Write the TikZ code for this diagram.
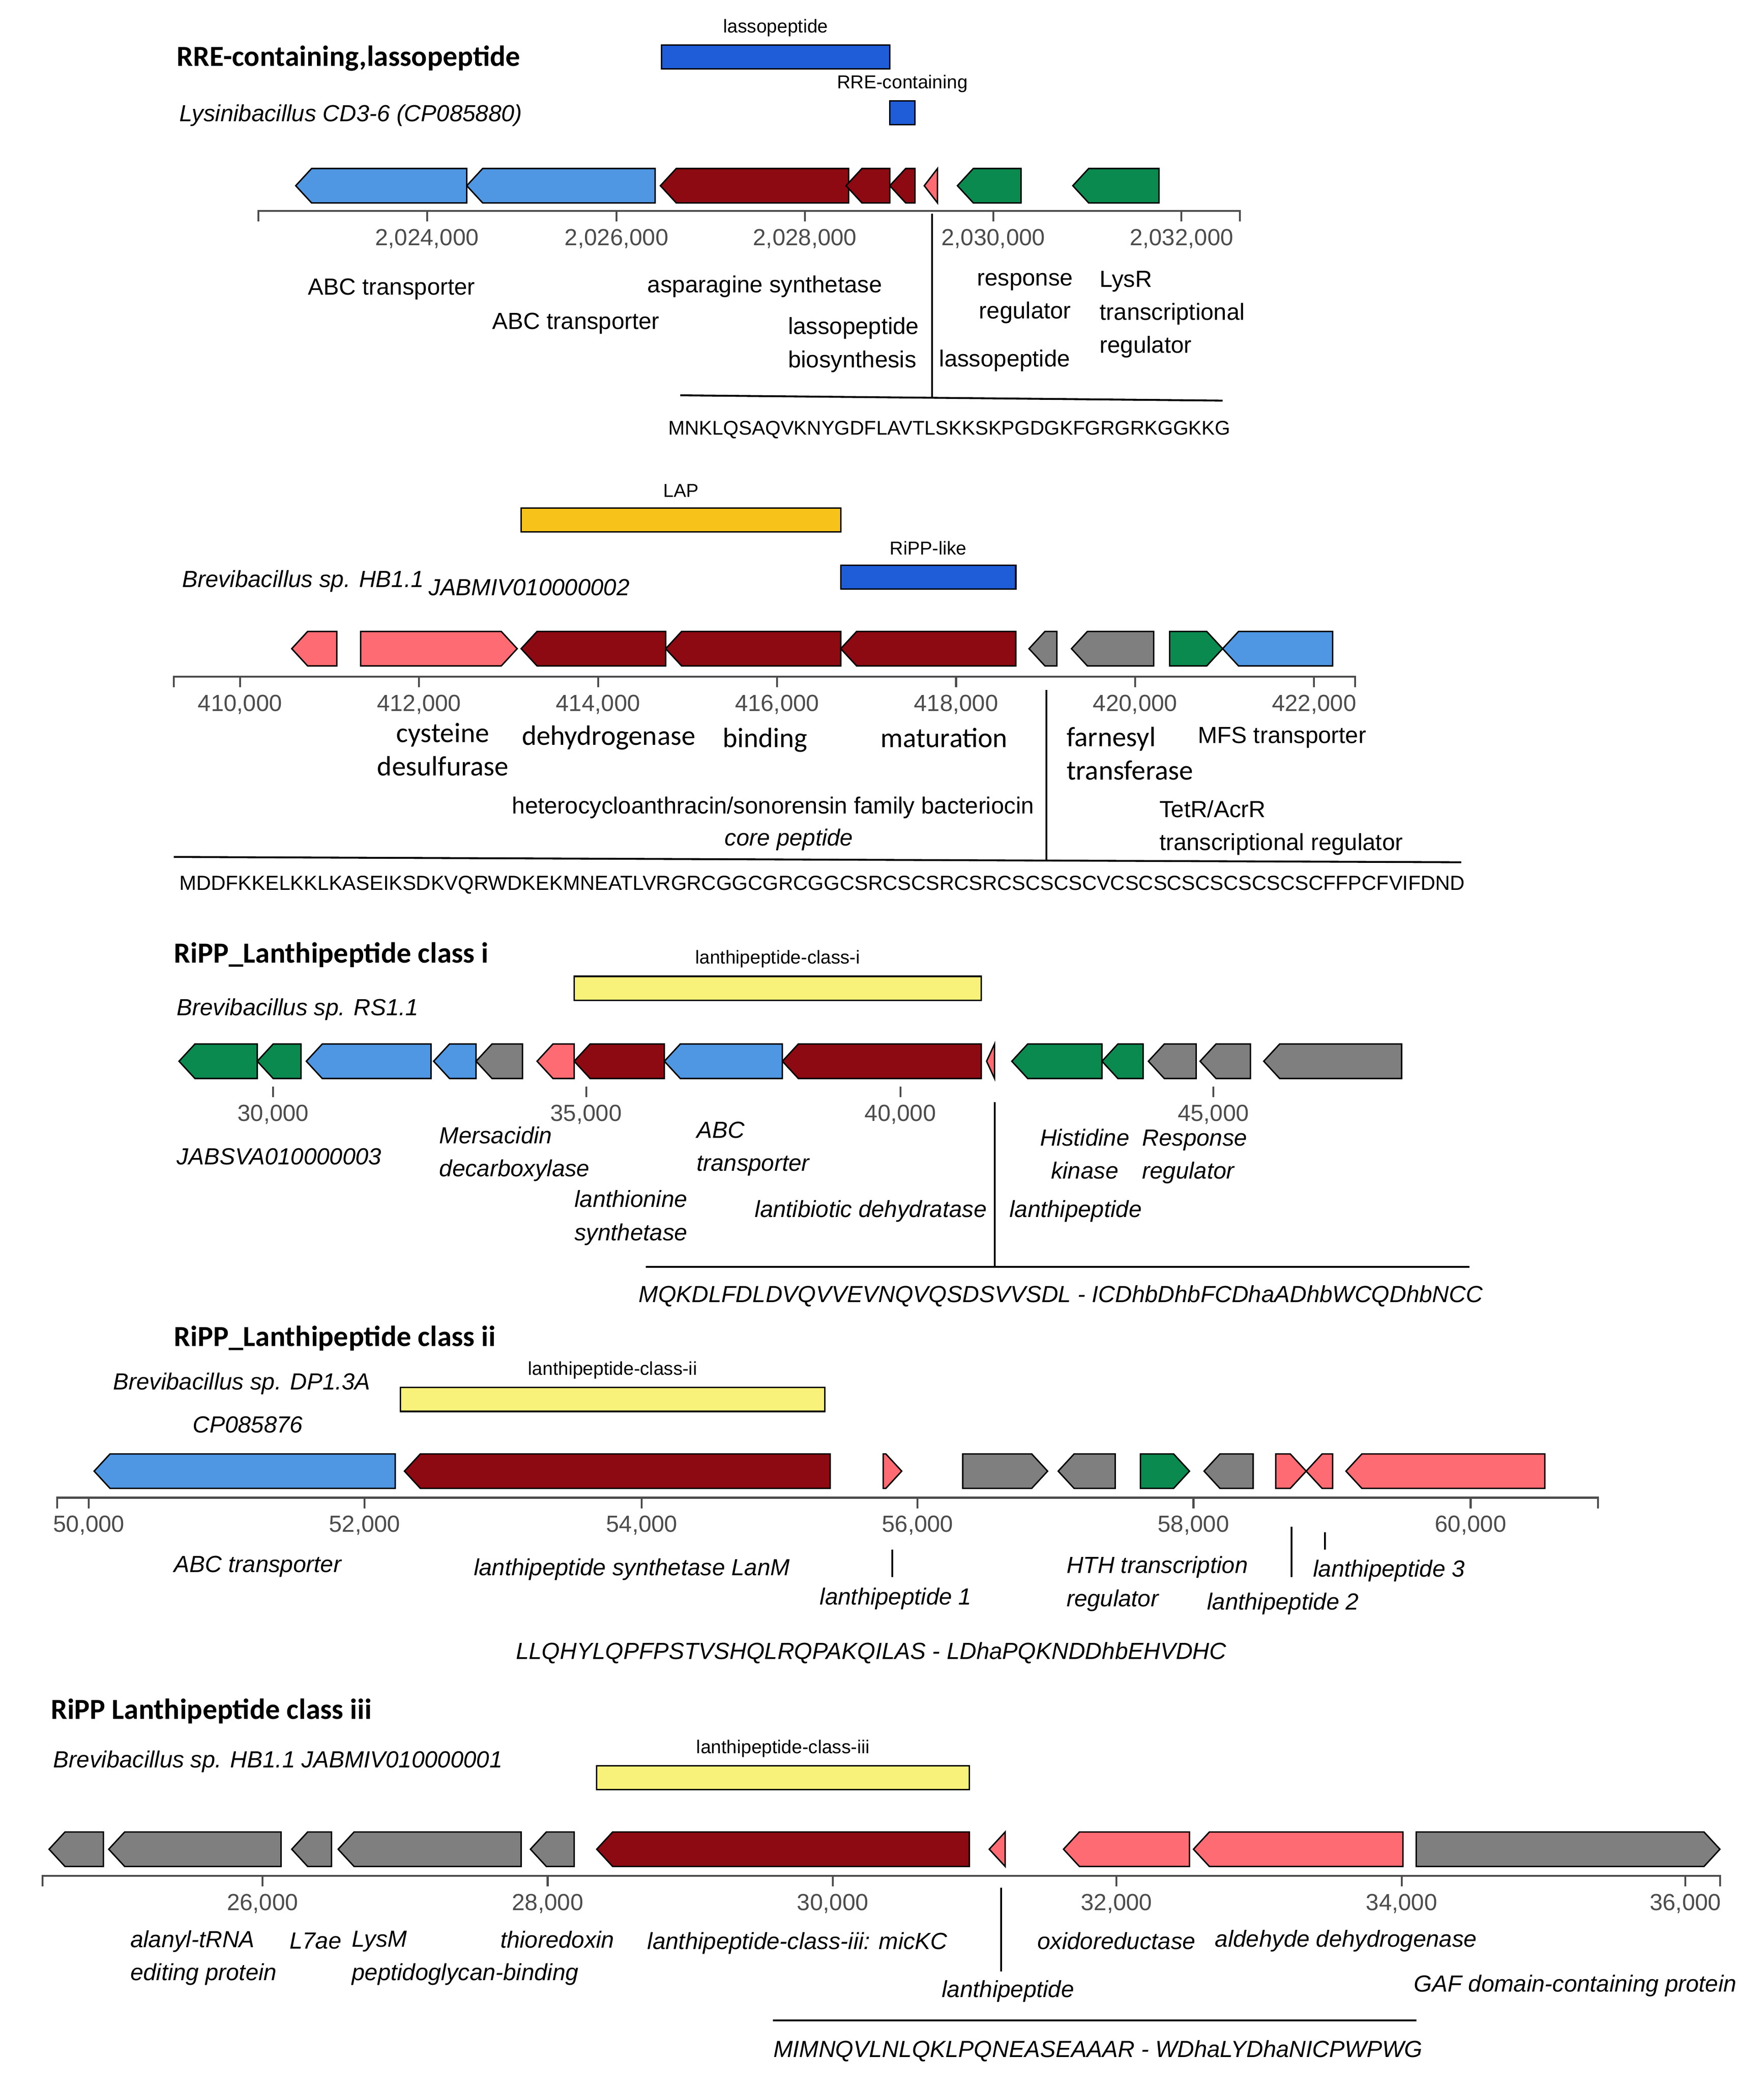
\documentclass[tikz,border=0pt]{standalone}
\usepackage{fontspec}
\setmainfont{Liberation Sans}
\newfontfamily\calfont{Carlito}
\definecolor{gblue}{HTML}{4F97E3}
\definecolor{gred}{HTML}{8E0A12}
\definecolor{ggreen}{HTML}{0B8A4F}
\definecolor{gpink}{HTML}{FF6B72}
\definecolor{ggray}{HTML}{7F7F7F}
\definecolor{bblue}{HTML}{1F5CD8}
\definecolor{lapy}{HTML}{F7C31A}
\definecolor{lyel}{HTML}{F8F27A}
\newcommand\gL[4]{\pgfmathsetmacro\tl{min(12,#2-#1)}\filldraw[fill=#4,draw=black,line width=0.6pt] (#1,#3) -- ({#1+\tl},#3-13) -- (#2,#3-13) -- (#2,#3+13) -- ({#1+\tl},#3+13) -- cycle;}
\newcommand\gR[4]{\pgfmathsetmacro\tl{min(12,#2-#1)}\filldraw[fill=#4,draw=black,line width=0.6pt] (#2,#3) -- ({#2-\tl},#3-13) -- (#1,#3-13) -- (#1,#3+13) -- ({#2-\tl},#3+13) -- cycle;}
\newcommand\gbar[5]{\filldraw[fill=#4,draw=black,line width=0.6pt] (#1,#3-9) rectangle (#2,#3+9); \node[barlab] at ({(#1+#2)/2},#3-22) {#5};}
\newcommand\tk[3]{\draw[axis] (#1,#2) -- (#1,#2+8); \node[num] at (#1,#2+21) {#3};}
\tikzset{
 lab/.style={font=\fontsize{10}{14.2}\selectfont,align=left,inner sep=0pt},
 ilab/.style={lab,font=\fontsize{10}{14.2}\selectfont\itshape},
 clab/.style={font=\calfont\fontsize{12}{14.2}\selectfont,align=left,inner sep=0pt},
 num/.style={font=\fontsize{10}{12}\selectfont,text=black!70,inner sep=0pt},
 barlab/.style={font=\fontsize{8}{10}\selectfont,inner sep=0pt},
 ttl/.style={font=\calfont\bfseries\fontsize{12.5}{14}\selectfont,anchor=west,inner sep=0pt},
 axis/.style={draw=black!70,line width=0.8pt},
 seq/.style={font=\fontsize{8.5}{10}\selectfont,inner sep=0pt},
 iseq/.style={font=\fontsize{10}{12}\selectfont\itshape,inner sep=0pt},
}
\begin{document}
\begin{tikzpicture}[x=0.02cm,y=-0.02cm]
\useasboundingbox[fill=white] (0,-3) rectangle (1330,1568);
% ---------------- Row 1
\node[ttl] (t1) at (133,41) {RRE-containing,lassopeptide};
\node[ilab,anchor=west] (s1) at (135,84) {Lysinibacillus CD3-6 (CP085880)};
\gbar{499}{671}{40}{bblue}{lassopeptide}
\gbar{671}{690}{82}{bblue}{RRE-containing}
\gL{223}{352}{137}{gblue}\gL{352}{494}{137}{gblue}
\gL{498}{640}{137}{gred}\gL{638}{671}{137}{gred}\gL{671}{690}{137}{gred}
\gL{697}{707}{137}{gpink}\gL{722}{770}{137}{ggreen}\gL{809}{874}{137}{ggreen}
\draw[axis] (195,164) -- (195,156) -- (935,156) -- (935,164);
\tk{322}{156}{2,024,000}\tk{465}{156}{2,026,000}\tk{607}{156}{2,028,000}\tk{749}{156}{2,030,000}\tk{891}{156}{2,032,000}
\node[lab,anchor=west] at (232,215) {ABC transporter};
\node[lab,anchor=west] at (371,241) {ABC transporter};
\node[lab,anchor=west] at (488,213) {asparagine synthetase};
\node[lab,anchor=west] at (594,257) {lassopeptide\\biosynthesis};
\node[lab,align=center] at (773,222) {response\\regulator};
\node[lab,anchor=west] at (829,234) {LysR\\transcriptional\\regulator};
\node[lab,anchor=west] at (708,269) {lassopeptide};
\draw[line width=0.8pt] (703,158) -- (703,297);
\draw[line width=0.8pt] (513,295) -- (922,299);
\node[seq] at (716,321) {MNKLQSAQVKNYGDFLAVTLSKKSKPGDGKFGRGRKGGKKG};
% ---------------- Row 2
\gbar{393}{634}{389}{lapy}{LAP}
\gbar{634}{766}{432}{bblue}{RiPP-like}
\node[ilab,anchor=west] at (137,435) {Brevibacillus sp. HB1.1};
\node[ilab,anchor=west] at (323,440) {JABMIV010000002};
\gL{220}{254}{486}{gpink}\gR{272}{390}{486}{gpink}
\gL{393}{502}{486}{gred}\gL{502}{634}{486}{gred}\gL{634}{766}{486}{gred}
\gL{776}{797}{486}{ggray}\gL{808}{870}{486}{ggray}\gR{882}{922}{486}{ggreen}\gL{922}{1005}{486}{gblue}
\draw[axis] (131,515) -- (131,507) -- (1022,507) -- (1022,515);
\tk{181}{507}{410,000}\tk{316}{507}{412,000}\tk{451}{507}{414,000}\tk{586}{507}{416,000}\tk{721}{507}{418,000}\tk{856}{507}{420,000}\tk{991}{507}{422,000}
\node[clab,align=center] at (334,562) {cysteine\\desulfurase};
\node[clab] at (459,553) {dehydrogenase};
\node[clab] at (577,555) {binding};
\node[clab] at (712,553) {maturation};
\node[clab,anchor=west] at (804,565) {farnesyl\\transferase};
\node[lab,anchor=west] at (903,553) {MFS transporter};
\node[lab] at (583,606) {heterocycloanthracin/sonorensin family bacteriocin};
\node[ilab] at (595,630) {core peptide};
\node[lab,anchor=west] at (874,621) {TetR/AcrR\\transcriptional regulator};
\draw[line width=0.8pt] (789,517) -- (789,645);
\draw[line width=0.8pt] (131,643) -- (1102,647);
\node[seq,font=\fontsize{8.75}{10}\selectfont] at (620,664) {MDDFKKELKKLKASEIKSDKVQRWDKEKMNEATLVRGRCGGCGRCGGCSRCSCSRCSRCSCSCSCVCSCSCSCSCSCSCSCFFPCFVIFDND};
% ---------------- Row 3
\node[ttl] at (131,717) {RiPP\_Lanthipeptide class i};
\node[ilab,anchor=west] at (133,758) {Brevibacillus sp. RS1.1};
\gbar{433}{740}{742}{lyel}{lanthipeptide-class-i}
\gL{135}{194}{797}{ggreen}\gL{194}{227}{797}{ggreen}\gL{231}{325}{797}{gblue}\gL{327}{359}{797}{gblue}\gL{359}{394}{797}{ggray}
\gL{405}{433}{797}{gpink}\gL{433}{501}{797}{gred}\gL{501}{590}{797}{gblue}\gL{590}{740}{797}{gred}\gL{744}{750}{797}{gpink}
\gL{763}{831}{797}{ggreen}\gL{831}{862}{797}{ggreen}\gL{866}{902}{797}{ggray}\gL{905}{943}{797}{ggray}\gL{953}{1057}{797}{ggray}
\tk{206}{816}{30,000}\tk{442}{816}{35,000}\tk{679}{816}{40,000}\tk{915}{816}{45,000}
\node[ilab,anchor=west] at (133,869) {JABSVA010000003};
\node[ilab,anchor=west] at (331,867) {Mersacidin\\decarboxylase};
\node[ilab,anchor=west] at (433,915) {lanthionine\\synthetase};
\node[ilab,anchor=west] at (525,863) {ABC\\transporter};
\node[ilab,anchor=west] at (569,910) {lantibiotic dehydratase};
\node[ilab,align=center] at (818,867) {Histidine\\kinase};
\node[ilab,anchor=west] at (861,869) {Response\\regulator};
\node[ilab,anchor=west] at (761,910) {lanthipeptide};
\draw[line width=0.8pt] (750,828) -- (750,952);
\draw[line width=0.8pt] (487,952) -- (1108,952);
\node[iseq] at (800,974) {MQKDLFDLDVQVVEVNQVQSDSVVSDL - ICDhbDhbFCDhaADhbWCQDhbNCC};
% ---------------- Row 4
\node[ttl] at (131,1006) {RiPP\_Lanthipeptide class ii};
\node[ilab,anchor=west] at (85,1040) {Brevibacillus sp. DP1.3A};
\node[ilab,anchor=west] at (145,1071) {CP085876};
\gbar{302}{622}{1052}{lyel}{lanthipeptide-class-ii}
\gL{71}{298}{1106}{gblue}\gL{305}{626}{1106}{gred}\gR{666}{680}{1106}{gpink}\gR{726}{790}{1106}{ggray}\gL{798}{841}{1106}{ggray}
\gR{860}{897}{1106}{ggreen}\gL{908}{945}{1106}{ggray}\gR{962}{985}{1106}{gpink}\gL{985}{1005}{1106}{gpink}\gL{1015}{1165}{1106}{gpink}
\draw[axis] (43,1134) -- (43,1126) -- (1205,1126) -- (1205,1134);
\tk{67}{1126}{50,000}\tk{275}{1126}{52,000}\tk{484}{1126}{54,000}\tk{692}{1126}{56,000}\tk{900}{1126}{58,000}\tk{1109}{1126}{60,000}
\node[ilab,anchor=west] at (131,1178) {ABC transporter};
\node[ilab,anchor=west] at (357,1180) {lanthipeptide synthetase LanM};
\node[ilab,anchor=west] at (618,1202) {lanthipeptide 1};
\draw[line width=0.8pt] (673,1165) -- (673,1186);
\node[ilab,anchor=west] at (804,1191) {HTH transcription\\regulator};
\node[ilab,anchor=west] at (910,1206) {lanthipeptide 2};
\draw[line width=0.8pt] (974,1148) -- (974,1186);
\node[ilab,anchor=west] at (990,1181) {lanthipeptide 3};
\draw[line width=0.8pt] (999,1152) -- (999,1165);
\node[iseq] at (657,1243) {LLQHYLQPFPSTVSHQLRQPAKQILAS - LDhaPQKNDDhbEHVDHC};
% ---------------- Row 5
\node[ttl] at (38,1287) {RiPP Lanthipeptide class iii};
\node[ilab,anchor=west] at (40,1325) {Brevibacillus sp. HB1.1 JABMIV010000001};
\gbar{450}{731}{1337}{lyel}{lanthipeptide-class-iii}
\gL{37}{78}{1391}{ggray}\gL{82}{212}{1391}{ggray}\gL{220}{250}{1391}{ggray}\gL{255}{393}{1391}{ggray}\gL{400}{433}{1391}{ggray}
\gL{450}{731}{1391}{gred}\gL{746}{758}{1391}{gpink}\gL{802}{897}{1391}{gpink}\gL{900}{1058}{1391}{gpink}\gR{1068}{1297}{1391}{ggray}
\draw[axis] (32,1419) -- (32,1411) -- (1297,1411) -- (1297,1419);
\tk{198}{1411}{26,000}\tk{413}{1411}{28,000}\tk{628}{1411}{30,000}\tk{842}{1411}{32,000}\tk{1057}{1411}{34,000}\tk{1271}{1411}{36,000}
\node[ilab,anchor=west] at (98,1473) {alanyl-tRNA\\editing protein};
\node[ilab,anchor=west] at (218,1460) {L7ae};
\node[ilab,anchor=west] at (265,1473) {LysM\\peptidoglycan-binding};
\node[ilab,anchor=west] at (377,1459) {thioredoxin};
\node[ilab,anchor=west] at (488,1462) {lanthipeptide-class-iii: micKC};
\node[ilab,anchor=west] at (710,1498) {lanthipeptide};
\draw[line width=0.8pt] (755,1420) -- (755,1483);
\node[ilab,anchor=west] at (782,1460) {oxidoreductase};
\node[ilab,anchor=west] at (916,1460) {aldehyde dehydrogenase};
\node[ilab,anchor=west] at (1066,1494) {GAF domain-containing protein};
\draw[line width=0.8pt] (583,1520) -- (1068,1520);
\node[iseq] at (828,1543) {MIMNQVLNLQKLPQNEASEAAAR - WDhaLYDhaNICPWPWG};
\end{tikzpicture}
\end{document}
